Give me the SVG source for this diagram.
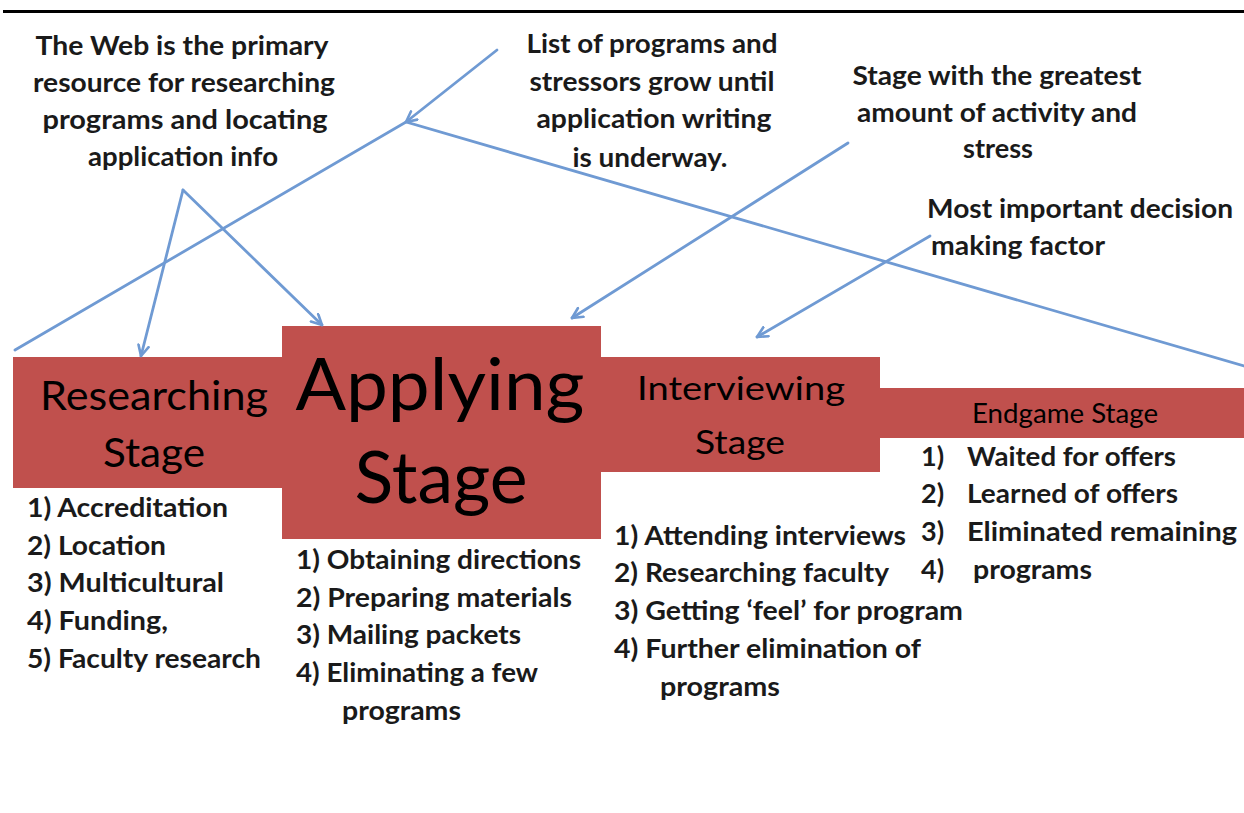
<svg xmlns="http://www.w3.org/2000/svg" width="1244" height="813" viewBox="0 0 1244 813">
  <style>
    .stage { fill: #c0504d; }
    .note { font-family: Lato, "Liberation Sans", sans-serif; font-weight: 700; font-size: 27px; fill: #1a1a1a; }
    .title { font-family: Lato, "Liberation Sans", sans-serif; font-weight: 400; fill: #000; }
    .link { stroke: #6f9ad3; stroke-width: 2.8; fill: none; stroke-linecap: round; }
  </style>
  <defs>
    <marker id="open-arrow" viewBox="0 0 10 10" refX="9" refY="5" markerWidth="13" markerHeight="13" markerUnits="userSpaceOnUse" orient="auto">
      <path d="M1,1 L9,5 L1,9" fill="none" stroke="#6f9ad3" stroke-width="2" stroke-linecap="round" stroke-linejoin="round"/>
    </marker>
  </defs>

  <rect width="1244" height="813" fill="#fff"/>
  <!-- header rule -->
  <line x1="3" y1="11.5" x2="1244" y2="11.5" stroke="#000" stroke-width="3"/>

  <!-- stage bars -->
  <g id="researching-stage">
    <rect class="stage" x="13" y="357" width="272" height="131"/>
    <text class="title" x="154" y="410" font-size="40" text-anchor="middle" textLength="228" lengthAdjust="spacingAndGlyphs">Researching</text>
    <text class="title" x="154" y="467" font-size="40" text-anchor="middle" textLength="102" lengthAdjust="spacingAndGlyphs">Stage</text>
  </g>
  <g id="applying-stage">
    <rect class="stage" x="282" y="326" width="319" height="213"/>
    <text class="title" x="440" y="410" font-size="72" text-anchor="middle" textLength="289" lengthAdjust="spacingAndGlyphs">Applying</text>
    <text class="title" x="441" y="503" font-size="72" text-anchor="middle" textLength="173" lengthAdjust="spacingAndGlyphs">Stage</text>
  </g>
  <g id="interviewing-stage">
    <rect class="stage" x="601" y="357" width="279" height="115"/>
    <text class="title" x="741" y="400" font-size="33" text-anchor="middle" textLength="208" lengthAdjust="spacingAndGlyphs">Interviewing</text>
    <text class="title" x="740" y="454" font-size="33" text-anchor="middle" textLength="90" lengthAdjust="spacingAndGlyphs">Stage</text>
  </g>
  <g id="endgame-stage">
    <rect class="stage" x="880" y="388" width="364" height="50"/>
    <text class="title" x="1065" y="423" font-size="26" text-anchor="middle" textLength="186" lengthAdjust="spacingAndGlyphs" fill="#1a1a1a">Endgame Stage</text>
  </g>

  <!-- task lists under each stage -->
  <g id="researching-list" class="note">
    <text x="27" y="517" textLength="201" lengthAdjust="spacingAndGlyphs">1) Accreditation</text>
    <text x="27" y="555" textLength="139" lengthAdjust="spacingAndGlyphs">2) Location</text>
    <text x="27" y="592" textLength="197" lengthAdjust="spacingAndGlyphs">3) Multicultural</text>
    <text x="27" y="630" textLength="141" lengthAdjust="spacingAndGlyphs">4) Funding,</text>
    <text x="27" y="668" textLength="234" lengthAdjust="spacingAndGlyphs">5) Faculty research</text>
  </g>
  <g id="applying-list" class="note">
    <text x="296" y="569" textLength="285" lengthAdjust="spacingAndGlyphs">1) Obtaining directions</text>
    <text x="296" y="607" textLength="276" lengthAdjust="spacingAndGlyphs">2) Preparing materials</text>
    <text x="296" y="644" textLength="225" lengthAdjust="spacingAndGlyphs">3) Mailing packets</text>
    <text x="296" y="682" textLength="242" lengthAdjust="spacingAndGlyphs">4) Eliminating a few</text>
    <text x="342" y="720" textLength="119" lengthAdjust="spacingAndGlyphs">programs</text>
  </g>
  <g id="interviewing-list" class="note">
    <text x="614" y="545" textLength="292" lengthAdjust="spacingAndGlyphs">1) Attending interviews</text>
    <text x="614" y="582" textLength="275" lengthAdjust="spacingAndGlyphs">2) Researching faculty</text>
    <text x="614" y="620" textLength="349" lengthAdjust="spacingAndGlyphs">3) Getting ‘feel’ for program</text>
    <text x="614" y="658" textLength="307" lengthAdjust="spacingAndGlyphs">4) Further elimination of</text>
    <text x="660" y="696" textLength="120" lengthAdjust="spacingAndGlyphs">programs</text>
  </g>
  <g id="endgame-list" class="note">
    <text x="921" y="466">1)</text>
    <text x="967" y="466" textLength="209" lengthAdjust="spacingAndGlyphs">Waited for offers</text>
    <text x="921" y="503">2)</text>
    <text x="967" y="503" textLength="211" lengthAdjust="spacingAndGlyphs">Learned of offers</text>
    <text x="921" y="541">3)</text>
    <text x="967" y="541" textLength="270" lengthAdjust="spacingAndGlyphs">Eliminated remaining</text>
    <text x="921" y="579">4)</text>
    <text x="973" y="579" textLength="119" lengthAdjust="spacingAndGlyphs">programs</text>
  </g>

  <!-- callout texts -->
  <g id="note-web" class="note" text-anchor="middle">
    <text x="182" y="55" textLength="293" lengthAdjust="spacingAndGlyphs">The Web is the primary</text>
    <text x="184" y="92" textLength="302" lengthAdjust="spacingAndGlyphs">resource for researching</text>
    <text x="185" y="129" textLength="285" lengthAdjust="spacingAndGlyphs">programs  and locating</text>
    <text x="183" y="166" textLength="190" lengthAdjust="spacingAndGlyphs">application info</text>
  </g>
  <g id="note-list" class="note" text-anchor="middle">
    <text x="652" y="53" textLength="251" lengthAdjust="spacingAndGlyphs">List of programs and</text>
    <text x="652" y="91" textLength="245" lengthAdjust="spacingAndGlyphs">stressors grow  until</text>
    <text x="654" y="128" textLength="235" lengthAdjust="spacingAndGlyphs">application writing</text>
    <text x="650" y="167" textLength="155" lengthAdjust="spacingAndGlyphs">is underway.</text>
  </g>
  <g id="note-activity" class="note" text-anchor="middle">
    <text x="997" y="85" textLength="289" lengthAdjust="spacingAndGlyphs">Stage with the greatest</text>
    <text x="997" y="122" textLength="280" lengthAdjust="spacingAndGlyphs">amount of activity and</text>
    <text x="998" y="158" textLength="70" lengthAdjust="spacingAndGlyphs">stress</text>
  </g>
  <g id="note-decision" class="note">
    <text x="927" y="218" textLength="306" lengthAdjust="spacingAndGlyphs">Most important decision</text>
    <text x="931" y="255" textLength="174" lengthAdjust="spacingAndGlyphs">making factor</text>
  </g>

  <!-- connectors -->
  <g id="connectors">
    <polyline class="link" points="15,350 406,122 1244,366"/>
    <line class="link" x1="497" y1="50" x2="406" y2="122" marker-end="url(#open-arrow)"/>
    <line class="link" x1="183" y1="190" x2="141" y2="356" marker-end="url(#open-arrow)"/>
    <line class="link" x1="183" y1="190" x2="322" y2="325" marker-end="url(#open-arrow)"/>
    <line class="link" x1="848" y1="143" x2="572" y2="318" marker-end="url(#open-arrow)"/>
    <line class="link" x1="930" y1="236" x2="757" y2="337" marker-end="url(#open-arrow)"/>
  </g>
</svg>
